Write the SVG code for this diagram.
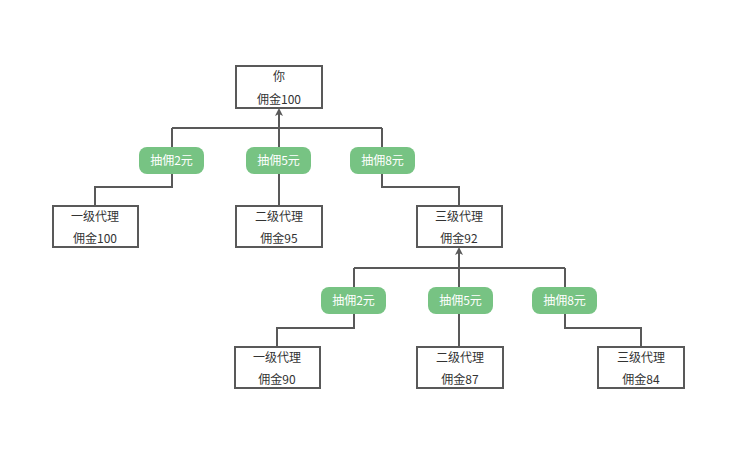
<svg xmlns="http://www.w3.org/2000/svg" width="735" height="455" viewBox="0 0 735 455">
<style>
.b{fill:#fff;stroke:#595959;stroke-width:2}
.t{font-family:"Noto Sans CJK SC","Liberation Sans",sans-serif;font-size:12px;fill:#333;text-anchor:middle}
.p{fill:#77c383}
.pt{font-family:"Noto Sans CJK SC","Liberation Sans",sans-serif;font-size:12px;fill:#fff;text-anchor:middle}
.l{fill:none;stroke:#595959;stroke-width:2}
</style>
<defs><marker id="a" markerWidth="8" markerHeight="8" refX="6" refY="4" orient="auto" markerUnits="userSpaceOnUse"><path d="M0,0L8,4L0,8L2,4Z" fill="#595959"/></marker></defs>
<rect width="735" height="455" fill="#fff"/>
<g id="connectors">
<path class="l" d="M279,187V110" marker-end="url(#a)"/>
<path class="l" d="M172,128H382"/>
<path class="l" d="M172,128V187H95V206"/>
<path class="l" d="M279,187V206"/>
<path class="l" d="M382,128V187H459V206"/>
<path class="l" d="M459,328V249" marker-end="url(#a)"/>
<path class="l" d="M354,268H565"/>
<path class="l" d="M354,268V328H277V347"/>
<path class="l" d="M459,328V347"/>
<path class="l" d="M565,268V328H641V347"/>
</g>
<g id="you"><rect class="b" x="236" y="66" width="86" height="42"/><text class="t" x="279" y="81">你</text><text class="t" x="279" y="104">佣金100</text></g>
<g id="l1a"><rect class="b" x="53" y="206" width="85" height="41"/><text class="t" x="95" y="221">一级代理</text><text class="t" x="95" y="243">佣金100</text></g>
<g id="l1b"><rect class="b" x="236" y="206" width="86" height="41"/><text class="t" x="279" y="221">二级代理</text><text class="t" x="279" y="243">佣金95</text></g>
<g id="l1c"><rect class="b" x="417" y="206" width="85" height="41"/><text class="t" x="459" y="221">三级代理</text><text class="t" x="459" y="243">佣金92</text></g>
<g id="l2a"><rect class="b" x="235" y="347" width="85" height="41"/><text class="t" x="277" y="362">一级代理</text><text class="t" x="277" y="384">佣金90</text></g>
<g id="l2b"><rect class="b" x="417" y="347" width="86" height="41"/><text class="t" x="460" y="362">二级代理</text><text class="t" x="460" y="384">佣金87</text></g>
<g id="l2c"><rect class="b" x="598" y="347" width="86" height="41"/><text class="t" x="641" y="362">三级代理</text><text class="t" x="641" y="384">佣金84</text></g>
<g id="p1"><rect class="p" x="139" y="147" width="65" height="27" rx="8"/><text class="pt" x="171.5" y="165">抽佣2元</text></g>
<g id="p2"><rect class="p" x="246" y="147" width="65" height="27" rx="8"/><text class="pt" x="278.5" y="165">抽佣5元</text></g>
<g id="p3"><rect class="p" x="350" y="147" width="65" height="27" rx="8"/><text class="pt" x="382.5" y="165">抽佣8元</text></g>
<g id="p4"><rect class="p" x="321" y="287" width="65" height="27" rx="8"/><text class="pt" x="353.5" y="305">抽佣2元</text></g>
<g id="p5"><rect class="p" x="428" y="287" width="65" height="27" rx="8"/><text class="pt" x="460.5" y="305">抽佣5元</text></g>
<g id="p6"><rect class="p" x="532" y="287" width="65" height="27" rx="8"/><text class="pt" x="564.5" y="305">抽佣8元</text></g>
</svg>
